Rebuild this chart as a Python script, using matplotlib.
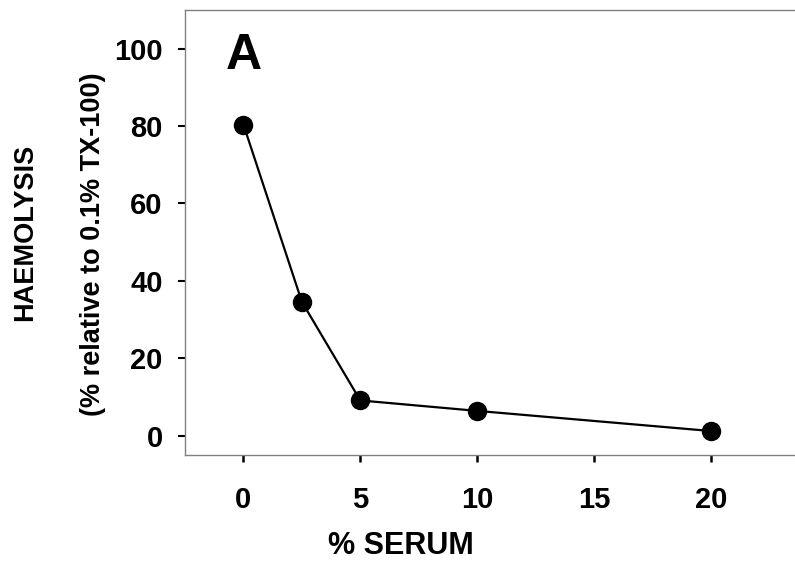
import matplotlib
matplotlib.use("Agg")
import matplotlib.pyplot as plt

# haemolysis vs serum concentration
serum_pct = [0, 2.5, 5, 10, 20]
haemolysis = [80.4, 34.6, 9.1, 6.4, 1.2]
x_ticks = [0, 5, 10, 15, 20]
y_ticks = [0, 20, 40, 60, 80, 100]

plt.rcParams['font.family'] = ['Liberation Sans', 'DejaVu Sans']
plt.rcParams['font.weight'] = 'bold'

W, H = 795, 563
fig = plt.figure(figsize=(W / 100, H / 100), dpi=100)
ax = fig.add_axes([185 / W, 1 - 455 / H, 1 - 185 / W, (455 - 10) / H])

ax.plot(serum_pct, haemolysis, color='black', linewidth=1.6,
        marker='o', markersize=13, markerfacecolor='black', markeredgecolor='black')

ax.set_xlim(-2.5, 23.6)
ax.set_ylim(-5, 110)
ax.set_xticks(x_ticks)
ax.set_yticks(y_ticks)

for side in ['left', 'bottom', 'top']:
    ax.spines[side].set_color('#808080')
    ax.spines[side].set_linewidth(1.0)
ax.spines['right'].set_visible(False)

ax.tick_params(axis='y', direction='out', length=5, width=1.5, color='black',
               labelsize=21, pad=11)
ax.tick_params(axis='x', direction='out', length=5, width=1.8, color='black',
               labelsize=21, pad=17)
for lbl in ax.get_xticklabels() + ax.get_yticklabels():
    lbl.set_fontweight('bold')

# panel letter
ax.text(0, 94.8, 'A', fontsize=36, fontweight='bold', ha='center', va='baseline')

fig.text(401 / W, 1 - 546 / H, '% SERUM', fontsize=22, fontweight='bold',
         ha='center', va='center')
fig.text(25 / W, 1 - 232 / H, 'HAEMOLYSIS', fontsize=19.5, fontweight='bold',
         rotation=90, ha='center', va='center')
fig.text(93 / W, 1 - 244 / H, '(% relative to 0.1% TX-100)', fontsize=19.5,
         fontweight='bold', rotation=90, ha='center', va='center')

fig.savefig('out.png', dpi=100)
